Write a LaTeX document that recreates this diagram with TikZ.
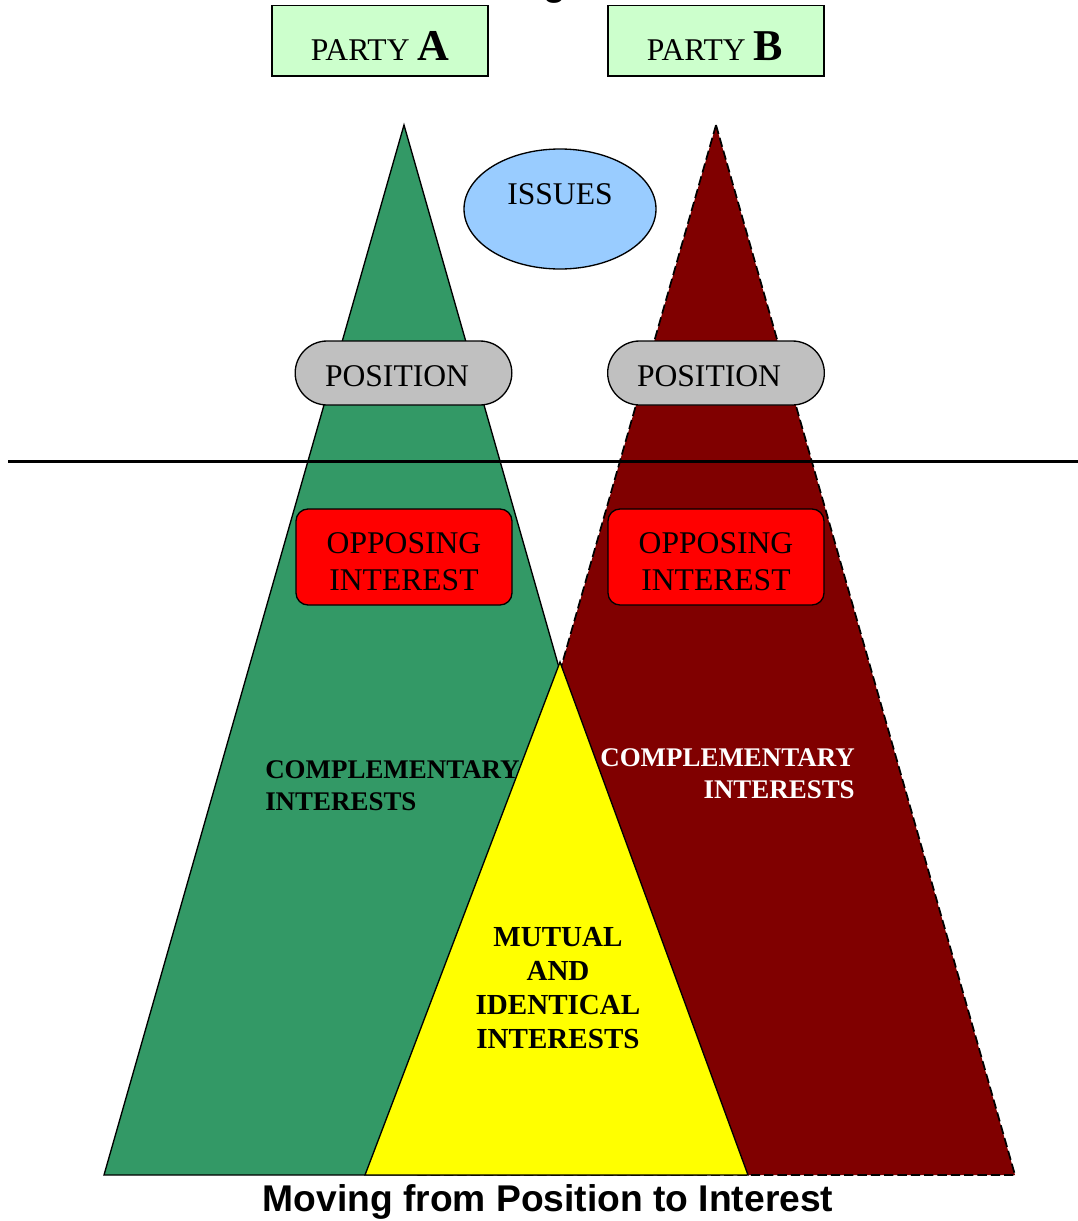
\documentclass[tikz,border=0pt]{standalone}
\usepackage{fontspec}
\setmainfont{Liberation Serif}
\newfontfamily\capfont{Liberation Sans}
\usetikzlibrary{shapes.geometric,shapes.misc}

\definecolor{partygreen}{HTML}{CCFFCC}
\definecolor{conegreen}{HTML}{339966}
\definecolor{conered}{HTML}{800000}
\definecolor{mutualyellow}{HTML}{FFFF00}
\definecolor{issueblue}{HTML}{99CCFF}
\definecolor{posgray}{HTML}{C0C0C0}

\tikzset{
  x=0.75pt, y=-0.75pt,
  plain/.style={font=\fontsize{23.7}{27.75}\selectfont},
  boldlabel/.style={font=\fontsize{20.2}{24}\selectfont\bfseries, inner sep=0pt},
  partybox/.style={draw, line width=1pt, fill=partygreen, minimum width=162pt, minimum height=53pt, inner sep=0pt},
  posbox/.style={draw, line width=1pt, fill=posgray, rounded rectangle, minimum width=162.5pt, minimum height=48pt, inner sep=0pt},
  oppbox/.style={draw, line width=1pt, fill=red, rounded corners=9pt, minimum width=162pt, minimum height=72pt, inner sep=0pt},
  cone/.style={draw, line width=1pt},
}
\newcommand{\bigletter}[1]{\textbf{\fontsize{33}{36}\selectfont #1}}

\begin{document}
\begin{tikzpicture}
\useasboundingbox (0,0) rectangle (1078,1221);

% title line, cut by the top edge
\node[anchor=base, inner sep=0pt, font=\capfont\fontsize{27.9}{30}\selectfont\bfseries] (title) at (555,-5) {g};

% cone corners
\coordinate (gTop) at (404,125);
\coordinate (gL) at (104,1175);
\coordinate (gR) at (704,1175);
\coordinate (rTop) at (716,125);
\coordinate (rL) at (416,1175);
\coordinate (rR) at (1015,1175);
\coordinate (yTop) at (560,662);
\coordinate (yL) at (365,1175);
\coordinate (yR) at (748,1175);

% party A cone
\draw[cone, fill=conegreen] (gTop) -- (gR) -- (gL) -- cycle;
% party B cone
\draw[cone, line width=1.3pt, fill=conered, dash pattern=on 7pt off 3pt] (rTop) -- (rR) -- (rL) -- cycle;
% shared interests
\draw[cone, fill=mutualyellow] (yTop) -- (yR) -- (yL) -- cycle;

% dividing line between positions and interests
\coordinate (divL) at (8,461.5);
\coordinate (divR) at (1078,461.5);
\draw[line width=2.3pt] (divL) -- (divR);

% parties
\node[partybox] (pa) at (380,40.5) {};
\node[partybox] (pb) at (716,40.5) {};
\node[anchor=base, plain, inner sep=0pt] (pat) at (380,60) {PARTY \bigletter{A}};
\node[anchor=base, plain, inner sep=0pt] (pbt) at (715,60) {PARTY \bigletter{B}};

% issues
\node[draw, line width=1pt, fill=issueblue, ellipse, minimum width=144pt, minimum height=90pt, inner sep=0pt] (issues) at (560,209) {};
\node[plain, inner sep=0pt] (issuest) at (560,194) {ISSUES};

% positions
\node[posbox] (posA) at (403.5,373) {};
\node[posbox] (posB) at (716,373) {};
\node[plain, inner sep=0pt] (posAt) at (397,376) {POSITION};
\node[plain, inner sep=0pt] (posBt) at (709,376) {POSITION};

% opposing interests
\node[oppbox] (oppA) at (404,557) {};
\node[oppbox] (oppB) at (716,557) {};
\node[plain, inner sep=0pt, align=center] (oppAt) at (404,562) {OPPOSING\\INTEREST};
\node[plain, inner sep=0pt, align=center] (oppBt) at (716,562) {OPPOSING\\INTEREST};

% complementary interests
\node[boldlabel, anchor=west, align=left, text=black] (compA) at (265,786) {COMPLEMENTARY\\INTERESTS};
\node[boldlabel, anchor=east, align=right, text=white] (compB) at (855,774) {COMPLEMENTARY\\INTERESTS};

% mutual interests
\node[boldlabel, align=center, font=\fontsize{21.8}{25.5}\selectfont\bfseries] (mutual) at (558,988) {MUTUAL\\AND\\IDENTICAL\\INTERESTS};

% caption
\node[anchor=base, inner sep=0pt, font=\capfont\fontsize{27.9}{30}\selectfont\bfseries] (caption) at (548,1211) {Moving from Position to Interest};
\end{tikzpicture}
\end{document}
